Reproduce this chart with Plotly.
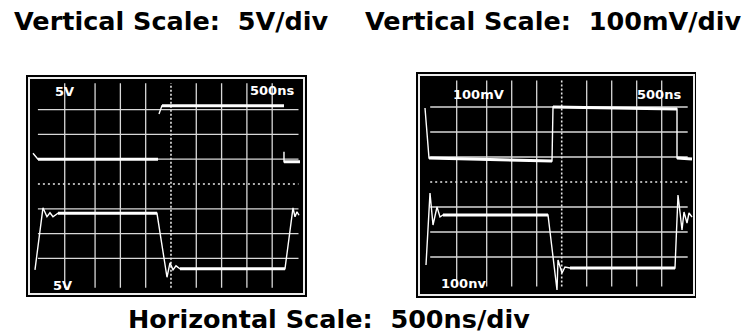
import plotly.graph_objects as go

W, H = 744, 335

# Scope settings
NS_PER_DIV = 500          # horizontal scale (both screens)
LEFT_V_PER_DIV = 5        # V/div
RIGHT_MV_PER_DIV = 100    # mV/div

# Left screen captures: time (ns), amplitude (V); None blanks the beam
left_top_t = [-2727, -2628, -257, None, -237, -178, 2233, None, 2233, 2233, 2549]
left_top_v = [6.2, 5.0, 5.0, None, 14.1, 15.8, 15.8, None, 6.5, 4.5, 4.5]

left_bot_t = [-2688, -2530, -2451, -2391, -2332, -2233, -277, -79, -20, 40, 99, 178,
              2253, 2411, 2451, 2490, 2530]
left_bot_v = [-17.3, -4.8, -6.6, -5.8, -6.6, -5.9, -5.9, -18.8, -15.9, -17.3, -16.5, -17.1,
              -17.1, -4.8, -6.6, -5.6, -6.3]

# Right screen captures: time (ns), amplitude (mV)
right_top_t = [-2734, -2654, -194, -174, 2306, 2306, 2606]
right_top_v = [296, 96, 84, 300, 292, 96, 92]

right_bot_t = [-2714, -2634, -2574, -2494, -2434, -2374, -274, -94, -74, 6, 66, 166,
               2266, 2326, 2406, 2446, 2506, 2546, 2606]
right_bot_v = [-332, -44, -172, -100, -140, -132, -132, -432, -312, -364, -340, -344,
               -344, -52, -192, -120, -164, -124, -140]

# Graticule (in divisions)
grid_x_div = [-4.2, -3, -2, -1, 1, 2, 3, 4]
grid_y_div = [-3, -2, -1, 1, 2, 3]
grid_x_extent = (-5.26, 5.04)
grid_y_extent = (-4.18, 4.06)

# On-screen readouts
left_labels = ["5V", "500ns", "5V"]
right_labels = ["100mV", "500ns", "100nv"]
titles = ["Vertical Scale:\u00a0 5V/div", "Vertical Scale:\u00a0 100mV/div"]
x_title = "Horizontal Scale:\u00a0 500ns/div"


def px(x):
    return x / W


def py(y):
    return 1 - y / H


def flat_runs(t, v, vdiv):
    """Split a trace into the slow (flat) stretches, drawn with a heavier beam."""
    xs, ys = [], []
    for i in range(len(t) - 1):
        if t[i] is None or t[i + 1] is None:
            continue
        dt = t[i + 1] - t[i]
        dv = abs(v[i + 1] - v[i])
        if dt > 150 and dv < 0.2 * vdiv:
            xs += [t[i], t[i + 1], None]
            ys += [v[i], v[i + 1], None]
    return xs, ys


fig = go.Figure()

screens = [
    dict(xa="x", ya="y", vdiv=LEFT_V_PER_DIV,
         traces=[(left_top_t, left_top_v), (left_bot_t, left_bot_v)]),
    dict(xa="x2", ya="y2", vdiv=RIGHT_MV_PER_DIV,
         traces=[(right_top_t, right_top_v), (right_bot_t, right_bot_v)]),
]

shapes = []
for s in screens:
    vd = s["vdiv"]
    y0, y1 = grid_y_extent[0] * vd, grid_y_extent[1] * vd
    x0, x1 = grid_x_extent[0] * NS_PER_DIV, grid_x_extent[1] * NS_PER_DIV
    for g in grid_x_div:
        shapes.append(dict(type="line", xref=s["xa"], yref=s["ya"], x0=g * NS_PER_DIV, x1=g * NS_PER_DIV,
                           y0=y0, y1=y1, line=dict(color="#d8d8d8", width=1.3), layer="below"))
    for g in grid_y_div:
        shapes.append(dict(type="line", xref=s["xa"], yref=s["ya"], x0=x0, x1=x1,
                           y0=g * vd, y1=g * vd, line=dict(color="#d8d8d8", width=1.3), layer="below"))
    # centre axes with minor ticks
    shapes.append(dict(type="line", xref=s["xa"], yref=s["ya"], x0=0, x1=0, y0=y0, y1=y1,
                       line=dict(color="#e8e8e8", width=1.6, dash="2px,2px"), layer="below"))
    shapes.append(dict(type="line", xref=s["xa"], yref=s["ya"], x0=x0, x1=x1, y0=0, y1=0,
                       line=dict(color="#e8e8e8", width=1.6, dash="2px,3px"), layer="below"))
    for t, v in s["traces"]:
        fig.add_trace(go.Scatter(x=t, y=v, xaxis=s["xa"], yaxis=s["ya"], mode="lines",
                                 line=dict(color="white", width=1.4), connectgaps=False,
                                 hoverinfo="skip", showlegend=False))
        fx, fy = flat_runs(t, v, vd)
        fig.add_trace(go.Scatter(x=fx, y=fy, xaxis=s["xa"], yaxis=s["ya"], mode="lines",
                                 line=dict(color="white", width=3), connectgaps=False,
                                 hoverinfo="skip", showlegend=False))

# Scope bezels
for (l, t, r, b) in [(26, 75, 307, 297), (416, 72, 696, 298)]:
    shapes.append(dict(type="rect", xref="paper", yref="paper", x0=px(l), x1=px(r),
                       y0=py(b), y1=py(t), fillcolor="black", line=dict(width=0), layer="below"))

axis_common = dict(showgrid=False, zeroline=False, showticklabels=False, ticks="",
                   showline=True, mirror=True, linecolor="#ececec", linewidth=1.5, fixedrange=True)

fig.update_layout(
    width=W, height=H,
    margin=dict(l=0, r=0, t=0, b=0),
    paper_bgcolor="white",
    plot_bgcolor="black",
    shapes=shapes,
    xaxis=dict(domain=[px(29.5), px(302.5)], range=[-2796, 2599], anchor="y", **axis_common),
    yaxis=dict(domain=[py(292.5), py(79)], range=[-21.875, 21.17], anchor="x", **axis_common),
    xaxis2=dict(domain=[px(419.5), px(693)], range=[-2844, 2626], anchor="y2", **axis_common),
    yaxis2=dict(domain=[py(294), py(76)], range=[-448, 424], anchor="x2", **axis_common),
)

label_font = dict(family="DejaVu Sans", size=13, color="white", weight="bold")
title_font = dict(family="DejaVu Sans", size=25.5, color="black", weight="bold")

ann = []
for text, (x, y) in zip(left_labels, [(64, 92), (272, 90), (63, 285)]):
    ann.append(dict(text=text, x=px(x), y=py(y), xref="paper", yref="paper",
                    showarrow=False, font=label_font, xanchor="center", yanchor="middle"))
for text, (x, y) in zip(right_labels, [(478, 95), (659, 95), (463, 283)]):
    ann.append(dict(text=text, x=px(x), y=py(y), xref="paper", yref="paper",
                    showarrow=False, font=label_font, xanchor="center", yanchor="middle"))
for text, x in zip(titles, [12, 363]):
    ann.append(dict(text=text, x=px(x), y=py(21), xref="paper", yref="paper",
                    showarrow=False, font=title_font, xanchor="left", yanchor="middle"))
ann.append(dict(text=x_title, x=px(126), y=py(319), xref="paper", yref="paper",
                showarrow=False, font=title_font, xanchor="left", yanchor="middle"))
fig.update_layout(annotations=ann)

fig.write_html("out.html")
